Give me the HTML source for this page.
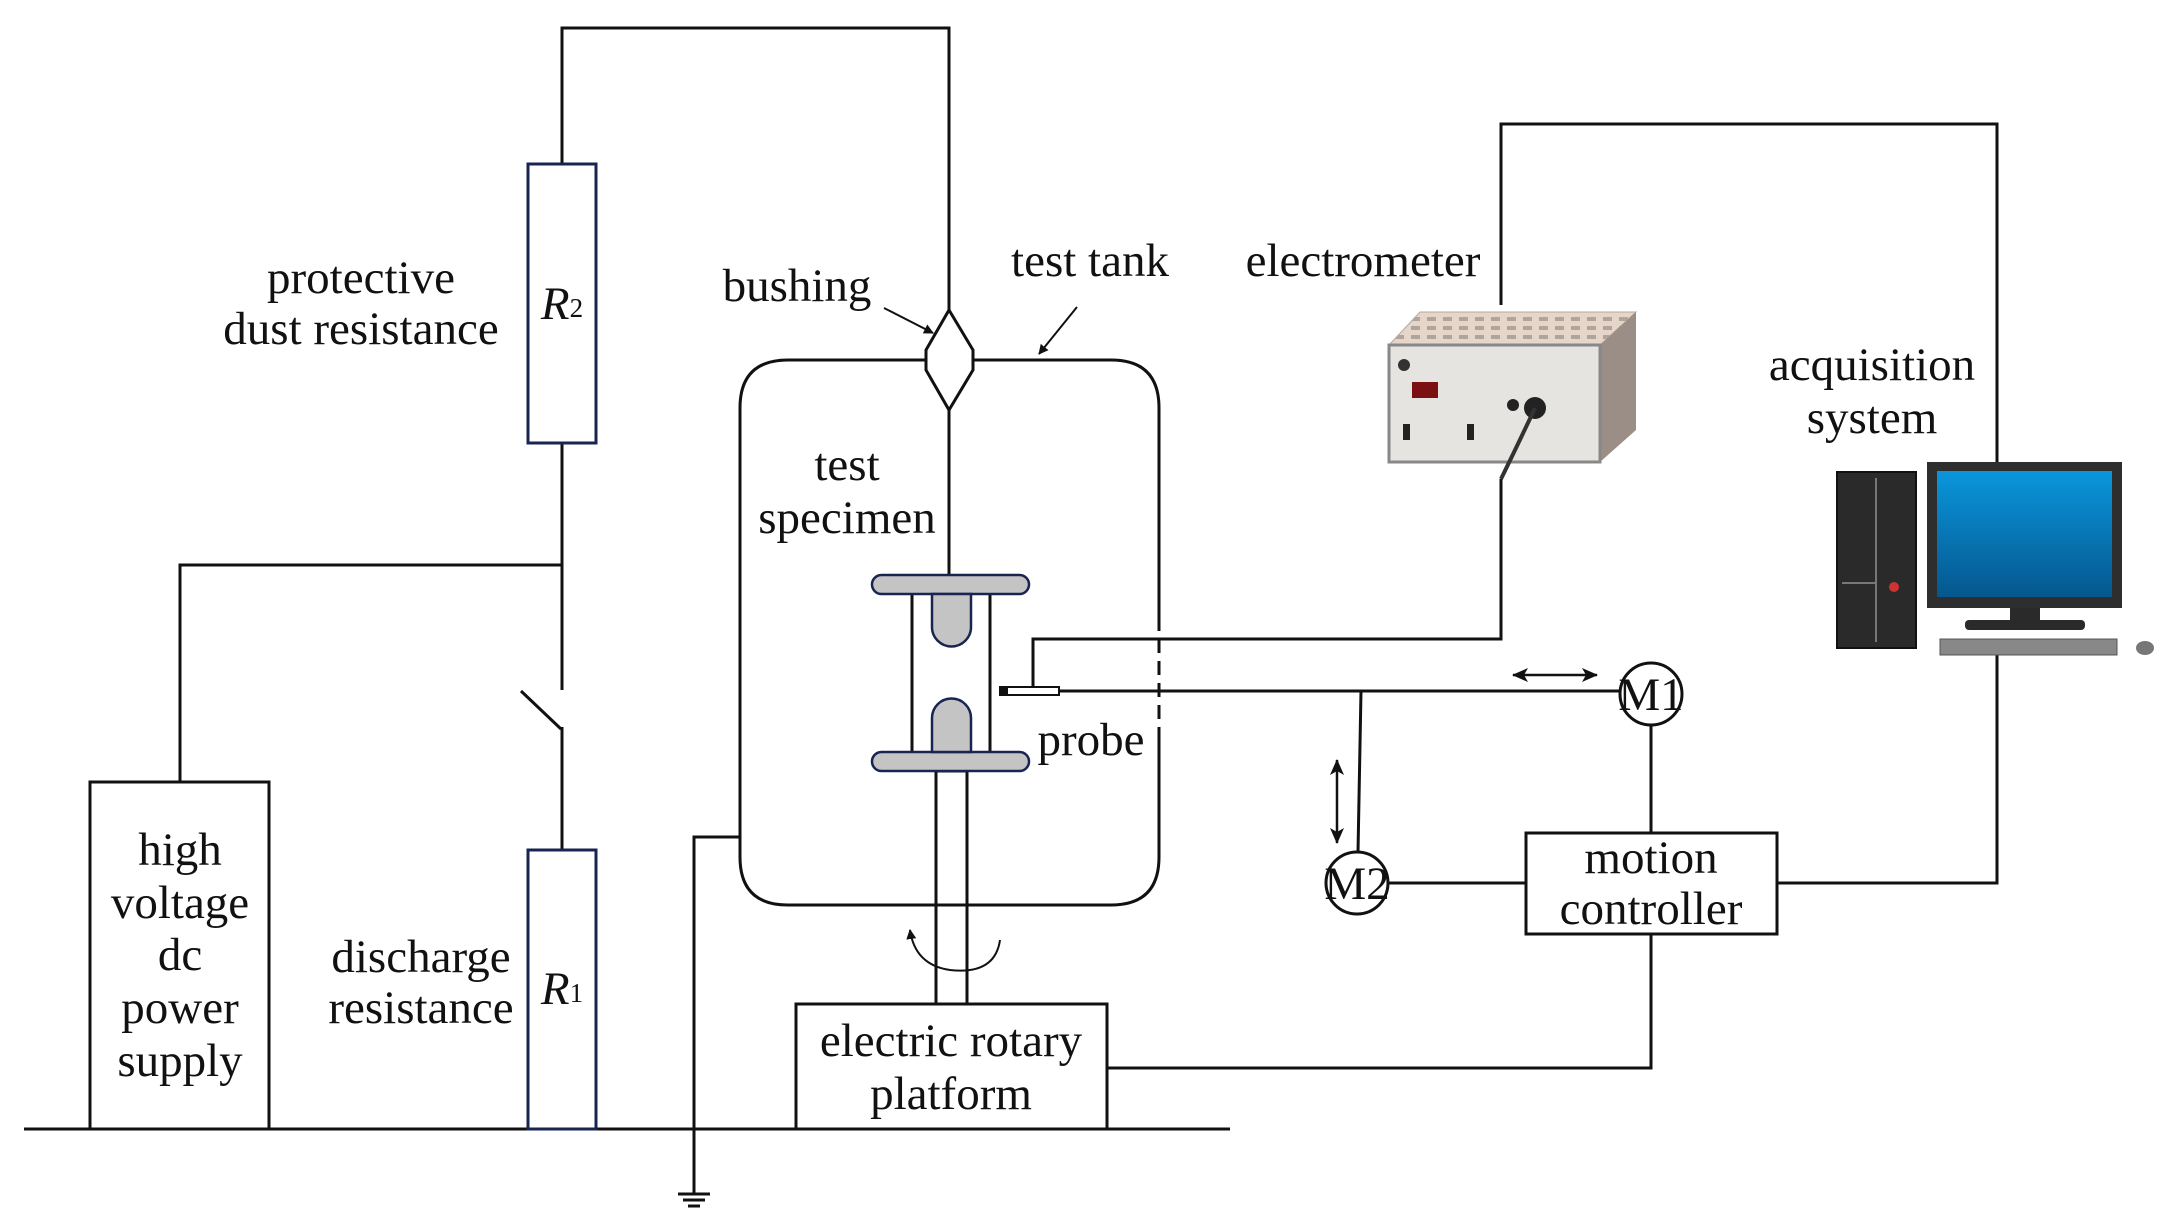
<!DOCTYPE html>
<html><head><meta charset="utf-8"><style>
html,body{margin:0;padding:0;background:#fff}
svg{display:block}
text{font-family:"Liberation Serif",serif;font-size:47px;fill:#111;text-anchor:middle;dominant-baseline:central}
</style></head><body>
<svg width="2166" height="1227" viewBox="0 0 2166 1227" xmlns="http://www.w3.org/2000/svg">
<defs>
<linearGradient id="scr" x1="0" y1="0" x2="0" y2="1"><stop offset="0" stop-color="#0a96dc"/><stop offset="1" stop-color="#05578e"/></linearGradient>
<marker id="ah" markerWidth="10" markerHeight="10" refX="9" refY="5" orient="auto" markerUnits="userSpaceOnUse"><path d="M0,0 L10,5 L0,10 z" fill="#111"/></marker>
<marker id="ah2" markerWidth="16" markerHeight="14" refX="15" refY="7" orient="auto-start-reverse" markerUnits="userSpaceOnUse"><path d="M0,0 L16,7 L0,14 L4,7 z" fill="#111"/></marker>
<pattern id="grid" width="16" height="9" patternUnits="userSpaceOnUse"><rect width="16" height="9" fill="#e6d6ca"/><rect x="3" y="2" width="9" height="4" fill="#b0a49c"/></pattern>
</defs>
<g fill="none" stroke="#111" stroke-width="3">
<line x1="24" y1="1129" x2="1230" y2="1129"/>
<polyline points="562,164 562,28 949,28 949,310"/>
<polyline points="562,443 562,690"/>
<line x1="521" y1="691" x2="561" y2="729"/>
<polyline points="562,727 562,850"/>
<polyline points="562,565 180,565 180,782"/>
<rect x="90" y="782" width="179" height="347"/>
<rect x="796" y="1004" width="311" height="125"/>
<path d="M788,360 L926,360 M973,360 L1111,360 Q1159,360 1159,408 L1159,617 M1159,730 L1159,857 Q1159,905 1111,905 L788,905 Q740,905 740,857 L740,408 Q740,360 788,360"/>
<line x1="1159" y1="617" x2="1159" y2="730" stroke-dasharray="14,8"/>
<polygon points="949,310 973,350 973,370 949,410 926,370 926,350"/>
<line x1="949" y1="410" x2="949" y2="576"/>
<line x1="912" y1="594" x2="912" y2="752"/>
<line x1="990" y1="594" x2="990" y2="752"/>
<rect x="936" y="771" width="31" height="233"/>
<polyline points="740,837 694,837 694,1194"/>
<line x1="678" y1="1194" x2="710" y2="1194"/>
<line x1="683" y1="1200" x2="705" y2="1200"/>
<line x1="688" y1="1206" x2="700" y2="1206"/>
<polyline points="1033,687 1033,639 1501,639 1501,479"/>
<line x1="1059" y1="691" x2="1620" y2="691"/>
<polyline points="1361,691 1358,852"/>
<polyline points="1501,305 1501,124 1997,124 1997,462"/>
<polyline points="1651,725 1651,833"/>
<polyline points="1388,883 1526,883"/>
<polyline points="1777,883 1997,883 1997,655"/>
<polyline points="1651,934 1651,1068 1107,1068"/>
<rect x="1526" y="833" width="251" height="101"/>
<circle cx="1651" cy="694" r="31" fill="#fff"/>
<circle cx="1357" cy="883" r="31" fill="#fff"/>
<line x1="1513" y1="675" x2="1597" y2="675" marker-start="url(#ah2)" marker-end="url(#ah2)" stroke-width="2.5"/>
<line x1="1337" y1="760" x2="1337" y2="843" marker-start="url(#ah2)" marker-end="url(#ah2)" stroke-width="2.5"/>
<line x1="884" y1="308" x2="933" y2="333" stroke-width="2" marker-end="url(#ah)"/>
<line x1="1077" y1="307" x2="1039" y2="354" stroke-width="2" marker-end="url(#ah)"/>
<path d="M1000,940 Q995,975 950,970 Q915,965 910,930" stroke-width="2" marker-end="url(#ah)"/>
</g>
<rect x="528" y="164" width="68" height="279" fill="#fff" stroke="#1a2450" stroke-width="3"/>
<rect x="528" y="850" width="68" height="279" fill="#fff" stroke="#1a2450" stroke-width="3"/>
<g fill="#c4c4c4" stroke="#1a2450" stroke-width="2.5">
<rect x="872" y="575" width="157" height="19" rx="9.5"/>
<rect x="872" y="752" width="157" height="19" rx="9.5"/>
<path d="M932,594 L971,594 L971,627 A19.5,19.5 0 0 1 932,627 Z"/>
<path d="M932,752 L971,752 L971,718 A19.5,19.5 0 0 0 932,718 Z"/>
</g>
<rect x="1000" y="687" width="59" height="8" fill="#fff" stroke="#111" stroke-width="2"/>
<rect x="1000" y="687" width="8" height="8" fill="#111"/>
<!-- electrometer -->
<polygon points="1389,345 1420,312 1636,312 1600,345" fill="url(#grid)" stroke="#b8a89c"/>
<polygon points="1600,345 1636,312 1636,430 1600,462" fill="#9a8e86"/>
<rect x="1389" y="345" width="211" height="117" fill="#e6e4e0" stroke="#888" stroke-width="3"/>
<rect x="1412" y="382" width="26" height="16" fill="#7a1010"/>
<circle cx="1404" cy="365" r="6" fill="#333"/>
<circle cx="1535" cy="408" r="11" fill="#222"/>
<circle cx="1513" cy="405" r="6" fill="#222"/>
<path d="M1535,408 Q1520,440 1501,479" stroke="#333" stroke-width="4" fill="none"/>
<rect x="1403" y="424" width="7" height="16" fill="#222"/>
<rect x="1467" y="424" width="7" height="16" fill="#222"/>
<!-- computer -->
<rect x="1837" y="472" width="79" height="176" fill="#2a2a2a" stroke="#111" stroke-width="2"/>
<line x1="1876" y1="478" x2="1876" y2="642" stroke="#777" stroke-width="2"/>
<line x1="1842" y1="583" x2="1876" y2="583" stroke="#777" stroke-width="2"/>
<circle cx="1894" cy="587" r="5" fill="#c33"/>
<rect x="1927" y="462" width="195" height="146" fill="#2e2e2e"/>
<rect x="1937" y="471" width="175" height="126" fill="url(#scr)"/>
<rect x="2010" y="608" width="30" height="14" fill="#2a2a2a"/>
<rect x="1965" y="620" width="120" height="10" rx="4" fill="#2a2a2a"/>
<rect x="1940" y="639" width="177" height="16" fill="#888" stroke="#555"/>
<ellipse cx="2145" cy="648" rx="9" ry="7" fill="#777"/>
<text x="361" y="278">protective</text>
<text x="361" y="329">dust resistance</text>
<text x="562" y="304" font-style="italic" font-size="38">R<tspan font-style="normal" font-size="27" dy="4">2</tspan></text>
<text x="562" y="989" font-style="italic" font-size="38">R<tspan font-style="normal" font-size="27" dy="4">1</tspan></text>
<text x="797" y="286">bushing</text>
<text x="1090" y="261">test tank</text>
<text x="1363" y="261">electrometer</text>
<text x="1872" y="365">acquisition</text>
<text x="1872" y="418">system</text>
<text x="847" y="465">test</text>
<text x="847" y="518">specimen</text>
<text x="1091" y="740">probe</text>
<text x="180" y="850">high</text>
<text x="180" y="903">voltage</text>
<text x="180" y="955">dc</text>
<text x="180" y="1008">power</text>
<text x="180" y="1061">supply</text>
<text x="421" y="957">discharge</text>
<text x="421" y="1008">resistance</text>
<text x="951" y="1041">electric rotary</text>
<text x="951" y="1094">platform</text>
<text x="1651" y="858">motion</text>
<text x="1651" y="909">controller</text>
<text x="1651" y="695" font-size="38">M1</text>
<text x="1357" y="884" font-size="38">M2</text>
</svg>
</body></html>
